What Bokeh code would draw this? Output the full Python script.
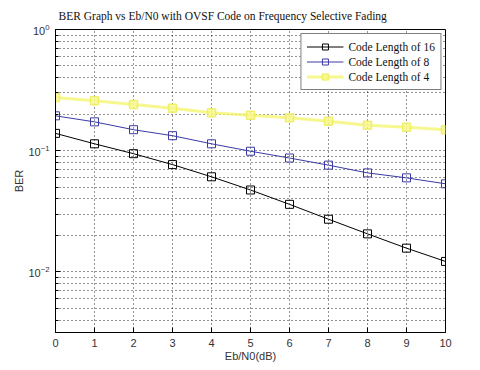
from bokeh.plotting import figure
from bokeh.models import FixedTicker, Legend, LegendItem
from bokeh.embed import file_html
from bokeh.resources import INLINE

# ---- data ----
ebn0 = [0, 1, 2, 3, 4, 5, 6, 7, 8, 9, 10]
ber_code16 = [0.139, 0.114, 0.0945, 0.0768, 0.0609, 0.0474, 0.0361, 0.0272, 0.0206, 0.0157, 0.0122]
ber_code8 = [0.194, 0.173, 0.149, 0.133, 0.114, 0.099, 0.087, 0.076, 0.0656, 0.0597, 0.0533]
ber_code4 = [0.275, 0.258, 0.241, 0.224, 0.206, 0.196, 0.187, 0.175, 0.162, 0.156, 0.149]
labels = ["Code Length of 16", "Code Length of 8", "Code Length of 4"]
title_text = "BER Graph vs Eb/N0 with OVSF Code on Frequency Selective Fading"
x_ticks = list(range(0, 11))
y_major = [1e-3, 1e-2, 1e-1, 1e0]
y_minor = [m * 10.0 ** e for e in (-3, -2, -1) for m in range(2, 10)]

p = figure(width=480, height=370, y_axis_type="log",
           x_range=(0, 10), y_range=(10 ** -2.5, 1.0),
           output_backend="svg", toolbar_location=None,
           min_border_left=55, min_border_right=35,
           min_border_top=28, min_border_bottom=38,
           background_fill_color="white", border_fill_color="white")

p.title.text = title_text
p.title.text_font = "Liberation Serif"
p.title.text_font_size = "11.5px"
p.title.text_font_style = "normal"
p.title.align = "left"
p.title.offset = 3
p.title.standoff = 15
p.title.text_color = "#111111"

p.outline_line_color = "black"
p.outline_line_width = 1

# axes
xt = FixedTicker(ticks=x_ticks)
yt = FixedTicker(ticks=y_major, minor_ticks=y_minor)
p.xaxis.ticker = xt
p.yaxis.ticker = yt
for ax in (p.xaxis[0], p.yaxis[0]):
    ax.axis_line_color = "black"
    ax.major_tick_line_color = "black"
    ax.minor_tick_line_color = "black"
    ax.major_tick_in = 5
    ax.major_tick_out = 0
    ax.minor_tick_in = 3
    ax.minor_tick_out = 0
    ax.major_label_text_font = "Liberation Sans"
    ax.major_label_text_font_size = "11px"
    ax.major_label_text_color = "#333333"
    ax.axis_label_text_font = "Liberation Sans"
    ax.axis_label_text_font_size = "11px"
    ax.axis_label_text_font_style = "normal"
    ax.axis_label_text_color = "#333333"
p.xaxis.minor_tick_line_color = None
p.xaxis.axis_label = "Eb/N0(dB)"
p.yaxis.axis_label = "BER"
p.xaxis.major_label_standoff = 6
p.xaxis.axis_label_standoff = 0
p.yaxis.major_label_standoff = 6
p.yaxis.axis_label_standoff = 0

# grids
p.xgrid.ticker = xt
p.ygrid.ticker = yt
for g in (p.xgrid[0], p.ygrid[0]):
    g.grid_line_color = "black"
    g.grid_line_alpha = 0.85
    g.grid_line_dash = "1 3"
    g.grid_line_width = 1
p.ygrid.minor_grid_line_color = "black"
p.ygrid.minor_grid_line_alpha = 0.85
p.ygrid.minor_grid_line_dash = "1 3"

# series
r16l = p.line(ebn0, ber_code16, line_color="black", line_width=1)
r16m = p.scatter(ebn0, ber_code16, marker="square", size=8, line_color="black",
                 fill_color=None, line_width=1)
r8l = p.line(ebn0, ber_code8, line_color="#3a3aa6", line_width=1)
r8m = p.scatter(ebn0, ber_code8, marker="square", size=8, line_color="#3a3aa6",
                fill_color=None, line_width=1)
r4l = p.line(ebn0, ber_code4, line_color="#f4f46a", line_width=3, line_alpha=0.75)
r4m = p.scatter(ebn0, ber_code4, marker="square", size=8, line_color="#eeee55",
                fill_color="#f8f890", line_width=1.5, line_alpha=0.8, fill_alpha=0.8)

legend = Legend(items=[LegendItem(label=labels[0], renderers=[r16l, r16m]),
                       LegendItem(label=labels[1], renderers=[r8l, r8m]),
                       LegendItem(label=labels[2], renderers=[r4l, r4m])],
                location="top_right")
legend.margin = 4
legend.padding = 5
legend.spacing = 0
legend.glyph_width = 37
legend.glyph_height = 15
legend.label_height = 15
legend.label_standoff = 5
legend.label_text_font = "Liberation Serif"
legend.label_text_font_size = "11.5px"
legend.label_text_color = "#111111"
legend.border_line_color = "black"
legend.border_line_width = 1
legend.background_fill_color = "white"
legend.background_fill_alpha = 1.0
p.add_layout(legend)

open("out.html", "w").write(file_html(p, INLINE))
